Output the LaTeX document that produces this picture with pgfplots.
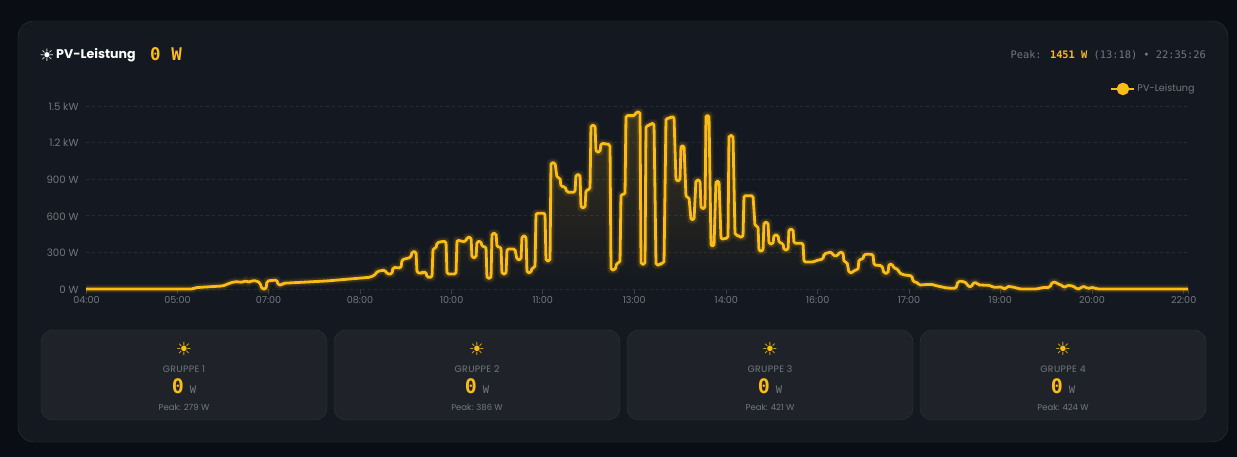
\documentclass[border=0pt]{standalone}
\usepackage{fontspec}
\usepackage{pgfplots}
\usepackage{pgfplotstable}
\pgfplotsset{compat=1.18}
\usetikzlibrary{fadings}
\setmainfont{Poppins}
\newfontfamily\monofont{DejaVu Sans Mono}
\newfontfamily\symfont{DejaVu Sans}
\definecolor{pagebg}{HTML}{0A0D14}
\definecolor{panelbg}{HTML}{141820}
\definecolor{panelline}{HTML}{30343D}
\definecolor{cardbg}{HTML}{1F2329}
\definecolor{cardline}{HTML}{30343B}
\definecolor{griddim}{HTML}{272B33}
\definecolor{tickdim}{HTML}{3A3E46}
\definecolor{txtgrey}{HTML}{73787F}
\definecolor{pvyellow}{HTML}{FBBC16}

% x = screen position of the time axis, y = watts
\pgfplotstableread{
x W
86 0
193 0
195 11
223 25
230 49
235 60
243 55
246 71
248 52
252 68
257 66
260 49
262 0
266 0
267 66
277 74
278 33
282 33
283 47
327 66
347 80
370 96
375 115
377 144
385 156
387 123
392 123
393 177
401 172
402 240
407 251
411 260
412 306
416 306
417 134
422 128
423 139
426 139
427 96
432 96
433 333
436 333
437 379
442 390
446 390
447 123
456 123
457 402
462 390
466 390
467 424
471 424
472 257
476 257
477 390
481 390
482 347
486 347
487 88
491 88
492 456
496 456
497 344
501 344
502 123
506 123
507 328
515 328
517 240
521 240
522 434
526 434
527 134
531 134
532 175
535 175
536 621
545 621
546 230
550 230
551 1035
555 1035
557 912
560 912
561 839
565 839
567 793
575 793
576 937
580 937
581 666
585 666
586 811
590 817
591 1342
595 1342
596 1123
600 1123
601 1194
605 1191
610 1183
611 156
615 156
617 216
620 216
621 776
625 776
626 1421
635 1421
636 1451
640 1451
641 203
645 203
646 1337
650 1342
651 1358
654 1358
656 197
660 197
661 213
664 213
666 1399
670 1399
671 1412
674 1412
676 888
680 888
681 1175
684 1175
686 752
689 752
691 566
694 566
696 893
700 893
701 661
705 661
706 1424
709 1424
711 352
714 352
716 885
719 885
721 407
724 412
728 418
729 1257
733 1257
735 443
738 443
739 426
743 426
744 765
753 765
755 516
758 516
759 311
763 311
764 546
768 546
769 369
773 369
774 443
778 443
779 380
783 375
784 320
788 320
789 490
793 490
794 375
803 375
804 221
813 221
818 238
823 244
824 287
828 298
832 303
833 273
838 273
839 301
843 301
844 221
847 221
849 134
853 134
854 156
858 156
859 243
863 243
864 284
873 284
874 197
882 191
884 129
888 129
889 205
892 205
894 170
898 164
899 134
903 117
912 107
913 60
918 52
919 30
923 35
932 38
937 25
947 8
956 5
958 63
963 63
967 46
968 19
972 19
973 52
977 52
978 33
990 30
993 14
998 14
1002 19
1003 0
1006 0
1007 22
1013 16
1020 0
1037 0
1042 11
1050 14
1052 55
1056 57
1058 38
1062 33
1064 8
1067 30
1073 25
1077 0
1080 0
1082 22
1086 16
1088 0
1091 14
1095 8
1097 0
1188 0
}\pvtable

\newcommand{\groupcard}[4]{%
  \fill[cardbg, draw=cardline, rounded corners=12pt] (#1,37) rectangle (#1+286,127);
  \node[pvyellow, inner sep=0] at (#1+143,108) {\symfont\fontsize{18}{18}\selectfont ☀};
  \node[txtgrey, inner sep=0] at (#1+143,88) {\fontsize{9.3}{10}\selectfont\addfontfeatures{LetterSpace=4}#2};
  \node[inner sep=0, anchor=base] at (#1+143,63) {\monofont\bfseries\fontsize{20}{20}\selectfont\textcolor{pvyellow}{#3}\hspace{6pt}\textcolor{txtgrey}{\fontseries{m}\fontsize{10.5}{10}\selectfont W}};
  \node[txtgrey, inner sep=0] at (#1+143,50) {\fontsize{8.5}{10}\selectfont Peak: #4 W};
}

\begin{document}
\begin{tikzpicture}[x=1pt, y=1pt]
  \fill[pagebg] (0,0) rectangle (1237,457);
  \fill[panelbg, draw=panelline, rounded corners=16pt] (18,15) rectangle (1228,436);

  \node[white, inner sep=0] at (47,402) {\symfont\bfseries\fontsize{17}{17}\selectfont ☀};
  \node[white, anchor=west, inner sep=0] at (56,402) {\fontsize{12.6}{16}\selectfont\bfseries PV-Leistung};
  \node[pvyellow, anchor=west, inner sep=0] at (150,403) {\monofont\bfseries\fontsize{17.5}{20}\selectfont 0 W};
  \node[txtgrey, anchor=east, inner sep=0] at (1206,402) {\monofont\fontsize{10.35}{12}\selectfont Peak: \textcolor{pvyellow}{\bfseries 1451 W} (13:18) • 22:35:26};

  \begin{axis}[
    at={(86pt,168pt)}, anchor=south west,
    scale only axis,
    width=1103pt, height=183pt,
    xmin=86, xmax=1189,
    ymin=0, ymax=1500,
    axis line style={draw=none},
    clip=false,
    tick pos=bottom,
    xtick={86.5,177.5,268.5,360,451.7,542.7,634.3,726.3,817.7,909,1000.3,1092,1183.7,1188.7},
    xticklabels={04:00,05:00,07:00,08:00,10:00,11:00,13:00,14:00,16:00,17:00,19:00,20:00,22:00,},
    ytick={0,300,600,900,1200,1500},
    yticklabels={0 W,300 W,600 W,900 W,1.2 kW,1.5 kW},
    ymajorgrids=true,
    grid style={griddim, dash pattern=on 3pt off 3pt, line width=0.8pt},
    tick align=outside,
    xtick style={tickdim, line width=0.8pt},
    ytick style={draw=none},
    major tick length=5pt,
    ticklabel style={txtgrey},
    xticklabel style={yshift=1pt, font=\fontsize{9.6}{10}\selectfont},
    yticklabel style={xshift=1pt, yshift=-0.5pt, font=\fontsize{10.2}{10}\selectfont},
    legend style={at={(rel axis cs:1.007,1.057)}, anchor=south east, draw=none, fill=none,
      font=\fontsize{9.6}{10}\selectfont, text=txtgrey, inner sep=0pt},
    legend image code/.code={
      \draw[pvyellow, line width=2pt] (0pt,0pt) -- (23pt,0pt);
      \fill[pvyellow] (11.5pt,0pt) circle (4.8pt);
    },
  ]
    \addplot[forget plot, draw=none, fill=pvyellow, fill opacity=0.16, path fading=south] table[x=x, y=W] {\pvtable} \closedcycle;
    \addplot[forget plot, pvyellow, opacity=0.06, line width=9pt, line join=round] table[x=x, y=W] {\pvtable};
    \addplot[forget plot, pvyellow, opacity=0.12, line width=6pt, line join=round] table[x=x, y=W] {\pvtable};
    \addplot[pvyellow, line width=2.8pt, line join=round, rounded corners=1.5pt] table[x=x, y=W] {\pvtable};
    \addlegendentry{PV-Leistung}
  \end{axis}

  \groupcard{41}{GRUPPE 1}{0}{279}
  \groupcard{334}{GRUPPE 2}{0}{386}
  \groupcard{627}{GRUPPE 3}{0}{421}
  \groupcard{920}{GRUPPE 4}{0}{424}
\end{tikzpicture}
\end{document}
